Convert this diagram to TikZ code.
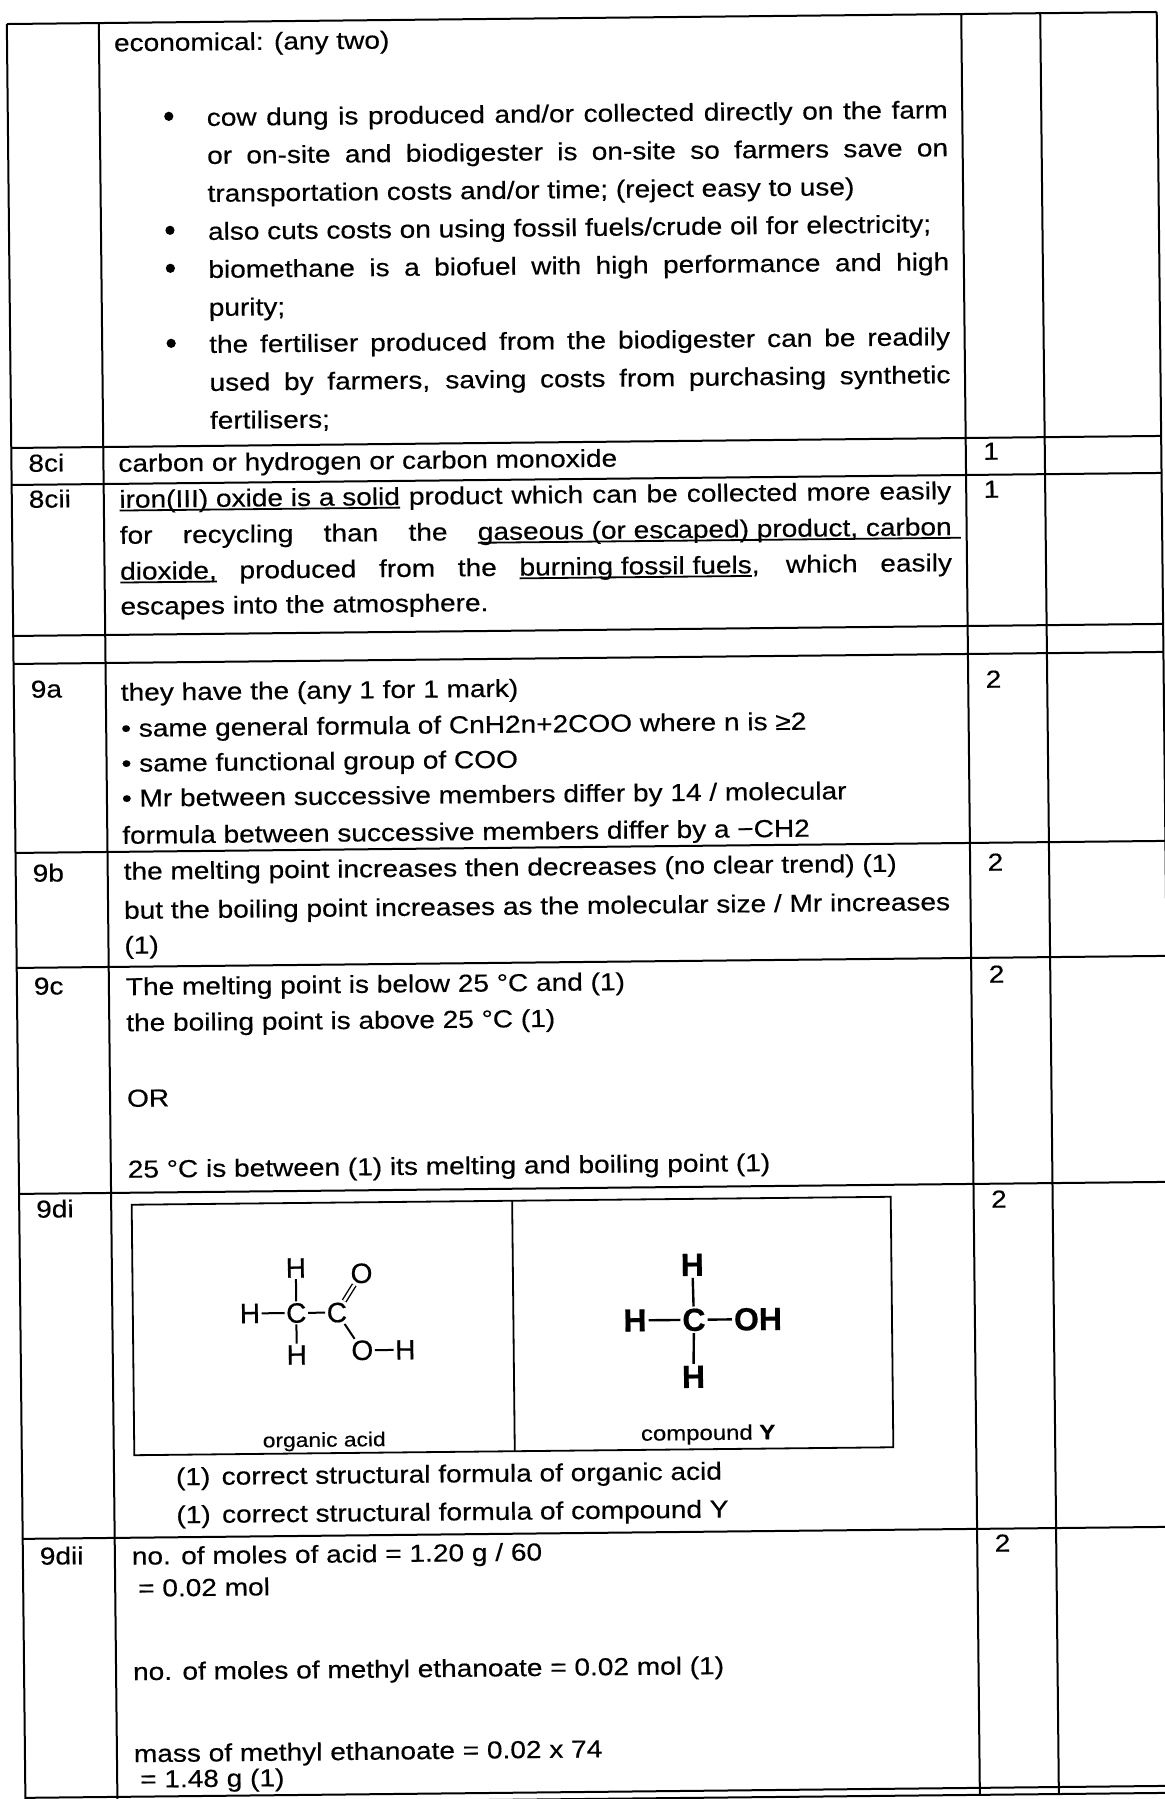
\documentclass[tikz,border=0pt]{standalone}
\usepackage{fontspec}
\setmainfont{Liberation Sans}[FakeStretch=1.14, FakeBold=0.4]
\newfontfamily\atomfont{Liberation Sans}[FakeBold=0.5]
\newlength\TxtU
\setlength\TxtU{0.5pt}
\newcommand{\JustLine}[2]{\makebox[#1\TxtU][s]{#2}}
\newcommand{\ULine}[1]{\setbox0\hbox{#1}\rlap{\rule[-1.8pt]{\wd0}{0.9pt}}\box0\relax}

\begin{document}
\begin{tikzpicture}[x=0.5pt, y=-0.5pt,
cell/.style={anchor=base west, inner sep=0, outer sep=0, font=\fontsize{12.3}{15}\selectfont},
small/.style={anchor=base, inner sep=0, font=\fontsize{10}{12}\selectfont},
rule/.style={line width=1pt},
atom/.style={inner sep=0.6pt, font=\atomfont\fontsize{14}{14}\selectfont},
bigatom/.style={inner sep=0.8pt, font=\atomfont\bfseries\fontsize{16}{16}\selectfont},
bond/.style={line width=1pt},
]
\useasboundingbox (0,0) rectangle (1165,1799);
\fill[white] (0,0) rectangle (1165,1799);

\begin{scope}[rotate around={0.6:(582,900)}, transform shape]
%%%%%%%%%%%% TABLE RULES %%%%%%%%%%%%
\foreach \y in {18,442,479,630,658,847,962,1188,1533,1792,1799}
  \draw[rule] (16,\y) -- (1166,\y);
\foreach \x in {16,108,970.5,1049.5,1166}
  \draw[rule] (\x,18) -- (\x,1799);

%%%%%%%%%%%% ROW 8 (economical) %%%%%%%%%%%%
\node[cell] (econ) at (123,46.5) {economical: (any two)};
\node[cell] (b1l1) at (215,122) {\JustLine{741}{cow dung is produced and/or collected directly on the farm}};
\node[cell] (b1l2) at (215,160) {\JustLine{741}{or on-site and biodigester is on-site so farmers save on}};
\node[cell] (b1l3) at (215,198) {transportation costs and/or time; (reject easy to use)};
\node[cell] (b2l1) at (215,236) {also cuts costs on using fossil fuels/crude oil for electricity;};
\node[cell] (b3l1) at (215,274) {\JustLine{741}{biomethane is a biofuel with high performance and high}};
\node[cell] (b3l2) at (215,312) {purity;};
\node[cell] (b4l1) at (215,349) {\JustLine{741}{the fertiliser produced from the biodigester can be readily}};
\node[cell] (b4l2) at (215,387) {\JustLine{741}{used by farmers, saving costs from purchasing synthetic}};
\node[cell] (b4l3) at (215,425) {fertilisers;};
\foreach \y in {122,236,274,349}
  \fill (177,\y-10) circle[radius=2.3pt];

%%%%%%%%%%%% 8ci %%%%%%%%%%%%
\node[cell] (lbl8ci) at (33,466) {8ci};
\node[cell] (txt8ci) at (123,467) {carbon or hydrogen or carbon monoxide};
\node[cell] (mrk8ci) at (988,464) {1};

%%%%%%%%%%%% 8cii %%%%%%%%%%%%
\node[cell] (lbl8cii) at (33,502) {8cii};
\node[cell] (t8ciiA) at (123.6,503) {\JustLine{832}{\ULine{iron(III) oxide is a solid} product which can be collected more easily}};
\node[cell] (t8ciiB) at (123.6,539) {\JustLine{832}{for recycling than the \ULine{gaseous (or escaped) product, carbon}\rlap{\rule[-1.8pt]{4.5pt}{0.9pt}}}};
\node[cell] (t8ciiC) at (123.6,575) {\JustLine{832}{\ULine{dioxide,} produced from the \ULine{burning fossil fuels}, which easily}};
\node[cell] (t8ciiD) at (123.6,610) {escapes into the atmosphere.};
\node[cell] (mrk8cii) at (988,502) {1};

%%%%%%%%%%%% 9a %%%%%%%%%%%%
\node[cell] (lbl9a) at (33,692) {9a};
\node[cell] (t9aA) at (123,696) {they have the (any 1 for 1 mark)};
\node[cell] (t9aB) at (123,732) {• same general formula of CnH2n+2COO where n is ≥2};
\node[cell] (t9aC) at (123,767) {• same functional group of COO};
\node[cell] (t9aD) at (123,802) {• Mr between successive members differ by 14 / molecular};
\node[cell] (t9aE) at (123,839) {formula between successive members differ by a −CH2};
\node[cell] (mrk9a) at (988,692) {2};

%%%%%%%%%%%% 9b %%%%%%%%%%%%
\node[cell] (lbl9b) at (33,876) {9b};
\node[cell] (t9bA) at (124,875) {the melting point increases then decreases (no clear trend) (1)};
\node[cell] (t9bB) at (124,914) {but the boiling point increases as the molecular size / Mr increases};
\node[cell] (t9bC) at (124,949) {(1)};
\node[cell] (mrk9b) at (988,875) {2};

%%%%%%%%%%%% 9c %%%%%%%%%%%%
\node[cell] (lbl9c) at (33,989) {9c};
\node[cell] (t9cA) at (125,990.5) {The melting point is below 25 °C and (1)};
\node[cell] (t9cB) at (125,1026.5) {the boiling point is above 25 °C (1)};
\node[cell] (t9cC) at (125,1102) {OR};
\node[cell] (t9cD) at (125,1173) {25 °C is between (1) its melting and boiling point (1)};
\node[cell] (mrk9c) at (988,987) {2};

%%%%%%%%%%%% 9di %%%%%%%%%%%%
\node[cell] (lbl9di) at (33,1212) {9di};
\node[cell] (mrk9di) at (988,1212) {2};
\draw[line width=0.9pt] (128.5,1200) rectangle (887.6,1450.5);
\draw[line width=0.9pt] (509,1200) -- (509,1450.5);
% organic acid
\node[atom] (aHt) at (292,1265) {H};
\node[atom] (aOt) at (357.6,1271) {O};
\node[atom] (aHl) at (245.6,1310) {H};
\node[atom] (aC1) at (292,1310) {C};
\node[atom] (aC2) at (332.6,1310) {C};
\node[atom] (aHb) at (292,1352) {H};
\node[atom] (aOb) at (357.6,1348) {O};
\node[atom] (aHr) at (400.6,1348) {H};
\draw[bond] (aHl) -- (aC1);
\draw[bond] (aC1) -- (aC2);
\draw[bond] (aHt) -- (aC1);
\draw[bond] (aC1) -- (aHb);
\draw[bond, line width=0.7pt, double, double distance=1.3pt] (aC2) -- (aOt);
\draw[bond] (aC2) -- (aOb);
\draw[bond] (aOb) -- (aHr);
\node[small] (acidlbl) at (318.6,1444) {organic acid};
% compound Y
\node[bigatom] (yHt) at (688.5,1266) {H};
\node[bigatom] (yC) at (689.6,1321) {C};
\node[bigatom] (yHl) at (630.6,1321) {H};
\node[bigatom] (yOH) at (753.6,1321) {OH};
\node[bigatom] (yHb) at (688.5,1378) {H};
\draw[bond, line width=1.2pt] (yHl) -- (yC);
\draw[bond, line width=1.2pt] (yC) -- (yOH);
\draw[bond, line width=1.2pt] (yHt) -- (yC);
\draw[bond, line width=1.2pt] (yC) -- (yHb);
\node[small, font=\fontsize{10.5}{12}\selectfont] (ylbl) at (702.6,1441.3) {compound \textbf{Y}};
\node[cell] (t9diA) at (170,1481) {(1)\hspace{5.7pt}correct structural formula of organic acid};
\node[cell] (t9diB) at (170,1519) {(1)\hspace{5.7pt}correct structural formula of compound Y};

%%%%%%%%%%%% 9dii %%%%%%%%%%%%
\node[cell] (lbl9dii) at (33,1559) {9dii};
\node[cell] (t9diiA) at (125,1560) {no. of moles of acid = 1.20 g / 60};
\node[cell] (t9diiB) at (131,1592) {= 0.02 mol};
\node[cell] (t9diiC) at (125,1675.5) {no. of moles of methyl ethanoate = 0.02 mol (1)};
\node[cell] (t9diiD) at (125,1757.5) {mass of methyl ethanoate = 0.02 x 74};
\node[cell] (t9diiE) at (131,1783) {= 1.48 g (1)};
\node[cell] (mrk9dii) at (988,1556) {2};
\end{scope}
\end{tikzpicture}
\end{document}
